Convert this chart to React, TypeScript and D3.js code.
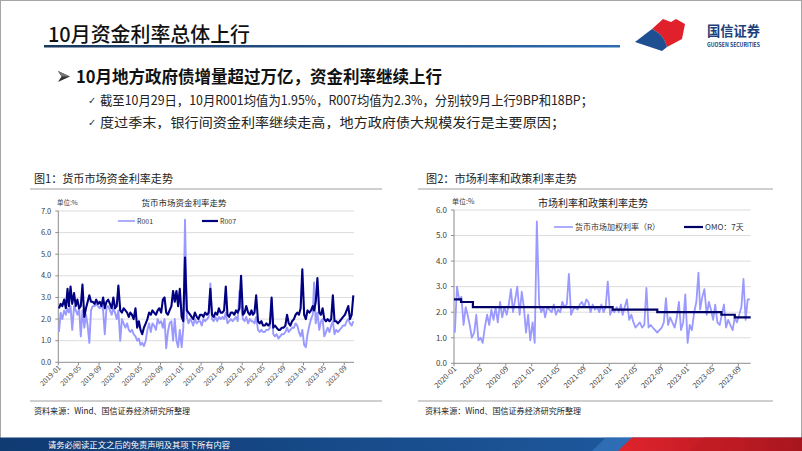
import * as d3 from 'd3';

// ---------- data (3 samples per month: 5th, 15th, 25th) ----------
const sampleDays = [5, 15, 25];

const r001_2019 = [1.4, 2.3, 2.0, 2.4, 2.2, 2.5, 2.3, 2.6, 1.5, 2.6, 2.4, 2.2, 2.5, 1.2, 2.4, 1.6, 2.2, 1.7, 0.9, 2.4, 2.6, 2.6, 2.7, 2.6, 2.5, 2.7, 2.4, 1.3, 2.5, 2.6, 2.4, 2.2, 2.5, 2.3, 2.0, 2.4];
const r001_2020 = [1.0, 2.0, 1.8, 1.6, 1.8, 1.5, 1.4, 1.5, 1.3, 1.2, 1.0, 1.1, 0.8, 0.9, 0.75, 1.0, 1.5, 1.8, 1.4, 1.8, 1.7, 1.5, 2.0, 1.8, 1.9, 1.6, 2.0, 0.65, 1.4, 1.8, 1.9, 1.0, 2.0, 1.0, 0.7, 1.5];
const r001_2021 = [0.7, 1.6, 6.6, 2.1, 1.8, 2.0, 1.9, 1.7, 2.0, 1.8, 1.9, 1.9, 1.7, 2.0, 1.9, 2.0, 2.1, 3.65, 2.0, 1.9, 2.1, 1.9, 2.1, 2.0, 2.1, 2.0, 2.3, 1.8, 1.9, 2.0, 1.9, 2.0, 2.1, 1.9, 3.3, 2.6];
const r001_2022 = [2.0, 1.9, 2.1, 1.8, 2.0, 1.9, 1.9, 1.8, 2.1, 1.5, 1.4, 1.5, 1.4, 1.4, 1.5, 1.5, 1.6, 2.9, 1.3, 1.2, 1.3, 1.1, 1.2, 1.3, 1.3, 1.4, 1.6, 1.4, 1.5, 1.6, 1.6, 1.8, 1.7, 1.4, 1.2, 1.5];
const r001_2023 = [0.8, 0.7, 1.3, 1.7, 2.0, 2.2, 3.7, 1.8, 2.3, 1.5, 1.9, 2.0, 1.2, 1.4, 1.6, 1.4, 1.7, 1.9, 1.3, 1.5, 1.4, 1.5, 1.6, 1.7, 1.7, 1.9, 2.0, 1.8, 1.7, 1.9];

const r007_2019 = [2.5, 2.7, 2.6, 2.9, 2.5, 3.4, 2.6, 3.5, 2.7, 3.2, 2.6, 2.9, 2.5, 2.6, 3.6, 2.1, 2.5, 2.8, 3.1, 2.8, 2.8, 2.7, 2.9, 2.7, 2.8, 2.6, 3.0, 2.5, 2.8, 2.9, 2.7, 2.5, 3.0, 2.5, 2.6, 3.55];
const r007_2020 = [2.4, 2.3, 2.5, 2.4, 2.3, 2.1, 2.3, 2.2, 2.0, 2.5, 1.6, 1.9, 1.5, 1.3, 1.6, 1.8, 2.0, 2.3, 2.2, 2.4, 2.3, 2.2, 2.4, 2.5, 2.3, 2.9, 3.0, 2.3, 2.2, 2.4, 2.6, 3.3, 2.8, 3.3, 2.6, 3.4];
const r007_2021 = [2.1, 1.9, 4.85, 2.4, 2.3, 2.2, 2.1, 2.0, 2.3, 2.1, 2.0, 2.2, 2.2, 2.1, 2.3, 2.2, 2.3, 3.4, 2.2, 2.1, 2.3, 2.2, 2.5, 2.3, 2.3, 2.4, 3.5, 2.2, 2.1, 2.3, 2.3, 2.2, 2.4, 2.3, 2.5, 4.0];
const r007_2022 = [2.2, 2.3, 2.6, 2.3, 2.2, 2.4, 2.2, 2.3, 3.1, 1.9, 1.8, 1.9, 1.7, 1.7, 1.8, 1.7, 1.8, 3.0, 1.6, 1.7, 1.6, 1.5, 1.5, 1.6, 1.6, 1.7, 2.2, 1.8, 1.7, 1.9, 2.0, 2.2, 2.3, 2.2, 2.5, 4.3];
const r007_2023 = [2.2, 2.0, 2.4, 2.3, 2.4, 2.6, 2.4, 2.8, 3.9, 2.3, 2.2, 2.5, 2.0, 1.9, 2.0, 1.9, 2.0, 3.1, 1.9, 1.9, 1.8, 1.9, 2.0, 2.1, 2.2, 2.4, 2.6, 2.0, 2.2, 3.1];

const rate_2020 = [1.2, 3.0, 2.5, 2.6, 1.5, 2.2, 1.9, 1.5, 1.0, 1.2, 1.9, 0.9, 1.0, 0.8, 1.4, 1.9, 1.5, 2.1, 1.7, 2.2, 1.6, 2.4, 1.8, 2.2, 1.9, 2.3, 2.9, 2.0, 2.5, 3.0, 1.9, 2.8, 2.2, 1.2, 1.9, 0.9];
const rate_2021 = [1.6, 0.8, 5.55, 2.3, 2.0, 2.2, 1.8, 2.2, 2.1, 2.0, 2.3, 1.9, 2.1, 2.0, 2.4, 2.2, 2.3, 3.5, 1.9, 2.1, 2.2, 2.1, 2.3, 2.4, 2.2, 2.5, 2.4, 2.0, 2.3, 2.1, 2.2, 2.0, 2.3, 2.0, 2.2, 3.2];
const rate_2022 = [1.9, 2.1, 2.0, 2.2, 2.0, 2.3, 1.9, 2.2, 2.5, 1.7, 1.9, 1.6, 1.4, 1.5, 1.6, 1.4, 1.5, 2.95, 1.4, 1.5, 1.4, 1.3, 1.2, 1.3, 1.4, 1.6, 2.55, 1.5, 1.8, 1.6, 1.4, 1.8, 2.4, 1.3, 1.6, 2.7];
const rate_2023 = [0.8, 1.5, 1.3, 2.0, 2.4, 3.55, 2.1, 2.6, 2.9, 1.9, 2.4, 2.1, 1.7, 2.3, 1.6, 1.5, 1.9, 2.3, 1.4, 1.7, 1.5, 1.3, 1.8, 1.6, 1.9, 2.2, 3.3, 1.7, 2.5, 2.5];

const omoDates = ['2020-01-01', '2020-02-03', '2020-03-30', '2022-01-17', '2022-08-15', '2023-06-13', '2023-08-15', '2023-10-29'];
const omoValues = [2.5, 2.4, 2.2, 2.1, 2.0, 1.9, 1.8, 1.8];

const yTicks1 = [0, 1, 2, 3, 4, 5, 6, 7];
const yTicks2 = [0, 1, 2, 3, 4, 5, 6];

// ---------- helpers ----------
const FONT = '"Noto Sans CJK SC", "Noto Sans", sans-serif';
const LIGHT = '#9999ff';
const NAVY = '#000080';

type Pt = { date: Date; value: number };

function toSeries(startYear: number, vals: number[]): Pt[] {
    return vals.map((v, i) => {
        const m = Math.floor(i / 3);
        return { date: new Date(startYear + Math.floor(m / 12), m % 12, sampleDays[i % 3]), value: v };
    });
}

const parse = d3.timeParse('%Y-%m-%d');
const fmt = d3.timeFormat('%Y-%m');

const r001 = toSeries(2019, [...r001_2019, ...r001_2020, ...r001_2021, ...r001_2022, ...r001_2023]);
const r007 = toSeries(2019, [...r007_2019, ...r007_2020, ...r007_2021, ...r007_2022, ...r007_2023]);
const rate = toSeries(2020, [...rate_2020, ...rate_2021, ...rate_2022, ...rate_2023]);
const omo: Pt[] = omoDates.map((d, i) => ({ date: parse(d)!, value: omoValues[i] }));

function Frame({ x, y, ticks, tickFont, dateFont }: {
    x: d3.ScaleTime<number, number>; y: d3.ScaleLinear<number, number>;
    ticks: number[]; tickFont: number; dateFont: number;
}) {
    const [x0, x1] = x.range();
    const [yb, yt] = y.range();
    const xTicks = x.ticks(d3.timeMonth.every(4)!);
    return (
        <g fontFamily={FONT}>
            {ticks.filter(t => t > 0).map(t => (
                <line key={'g' + t} x1={x0} x2={x1} y1={y(t)} y2={y(t)} stroke="#dcdcdc" strokeWidth={1} />
            ))}
            {ticks.map(t => (
                <g key={'t' + t}>
                    <line x1={x0 - 3} x2={x0} y1={y(t)} y2={y(t)} stroke="#8c8c8c" />
                    <text x={x0 - 7} y={y(t)} dy="0.35em" textAnchor="end" fontSize={tickFont} fill="#404040">{t.toFixed(1)}</text>
                </g>
            ))}
            <line x1={x0} x2={x0} y1={yt} y2={yb} stroke="#8c8c8c" />
            <line x1={x0} x2={x1} y1={yb} y2={yb} stroke="#8c8c8c" />
            {xTicks.map(d => (
                <g key={+d}>
                    <line x1={x(d)} x2={x(d)} y1={yb} y2={yb + 3} stroke="#8c8c8c" />
                    <text transform={`translate(${x(d) + 3},${yb + 6}) rotate(-45)`} textAnchor="end" fontSize={dateFont} fill="#404040">{fmt(d)}</text>
                </g>
            ))}
        </g>
    );
}

function Chart1() {
    const x = d3.scaleTime().domain([new Date(2019, 0, 1), new Date(2023, 9, 29)]).range([58.3, 354]);
    const y = d3.scaleLinear().domain([0, 7]).range([362.3, 211]);
    const line = d3.line<Pt>().x(d => x(d.date)).y(d => y(d.value));
    return (
        <g>
            <Frame x={x} y={y} ticks={yTicks1} tickFont={7.5} dateFont={7} />
            <path d={line(r001)!} fill="none" stroke={LIGHT} strokeWidth={1.9} strokeLinejoin="round" />
            <path d={line(r007)!} fill="none" stroke={NAVY} strokeWidth={2.1} strokeLinejoin="round" />
            <g fontFamily={FONT}>
                <text x={57} y={205} fontSize={6.5} fill="#404040">单位:%</text>
                <text x={184} y={206} fontSize={8.5} textAnchor="middle" fill="#222">货币市场资金利率走势</text>
                <line x1={118} x2={135} y1={221} y2={221} stroke={LIGHT} strokeWidth={1.6} />
                <text x={137} y={223.5} fontSize={7} fill="#333">R001</text>
                <line x1={202} x2={218} y1={221} y2={221} stroke={NAVY} strokeWidth={2.2} />
                <text x={220} y={223.5} fontSize={7} fill="#333">R007</text>
            </g>
        </g>
    );
}

function Chart2() {
    const x = d3.scaleTime().domain([new Date(2020, 0, 1), new Date(2023, 9, 29)]).range([454, 750.7]);
    const y = d3.scaleLinear().domain([0, 6]).range([363.3, 210]);
    const line = d3.line<Pt>().x(d => x(d.date)).y(d => y(d.value));
    const step = d3.line<Pt>().x(d => x(d.date)).y(d => y(d.value)).curve(d3.curveStepAfter);
    return (
        <g>
            <Frame x={x} y={y} ticks={yTicks2} tickFont={8} dateFont={7.5} />
            <path d={line(rate)!} fill="none" stroke={LIGHT} strokeWidth={1.8} strokeLinejoin="round" />
            <path d={step(omo)!} fill="none" stroke="#000066" strokeWidth={2.2} />
            <g fontFamily={FONT}>
                <text x={452} y={204} fontSize={7} fill="#404040">单位:%</text>
                <text x={593} y={207} fontSize={10} textAnchor="middle" fill="#222">市场利率和政策利率走势</text>
                <line x1={554} x2={573} y1={227} y2={227} stroke={LIGHT} strokeWidth={1.6} />
                <text x={575} y={230} fontSize={8} fill="#333">货币市场加权利率（R）</text>
                <line x1={684} x2={703} y1={227} y2={227} stroke="#000066" strokeWidth={2.2} />
                <text x={705} y={230} fontSize={8} fill="#333">OMO：7天</text>
            </g>
        </g>
    );
}

export default function App() {
    return (
        <svg width={802} height={451} viewBox="0 0 802 451"
            style={{ position: 'absolute', left: 0, top: 0, display: 'block', background: '#fff' }}>
            <defs>
                <linearGradient id="titleLine" x1="0" x2="1" y1="0" y2="0">
                    <stop offset="0" stopColor="#17375e" />
                    <stop offset="1" stopColor="#2e6cb0" />
                </linearGradient>
                <linearGradient id="footBlue" x1="0" x2="1" y1="0" y2="0">
                    <stop offset="0" stopColor="#0f3a72" />
                    <stop offset="0.7" stopColor="#1c5598" />
                    <stop offset="1" stopColor="#2466ad" />
                </linearGradient>
                <linearGradient id="footRed" x1="0" x2="1" y1="0" y2="0">
                    <stop offset="0" stopColor="#e0242c" />
                    <stop offset="1" stopColor="#a8151e" />
                </linearGradient>
            </defs>
            <rect x={0.5} y={0.5} width={801} height={450} fill="#fff" stroke="#a6a6a6" />

            {/* header */}
            <g fontFamily={FONT}>
                <text x={48} y={42} fontSize={20} fontWeight={500} fill="#111" textLength={202} lengthAdjust="spacingAndGlyphs">10月资金利率总体上行</text>
                <rect x={44} y={45} width={576} height={2.5} fill="url(#titleLine)" />
                <path d="M652,29 L663,19 L671,22 L676,19 L685,24 L682,39 L667,47 C665,40 662,34 652,29 Z" fill="#e0202a" />
                <path d="M635,42 L652,29 C662,34 665,40 667,47 L662,51 Z" fill="#1d4f91" />
                <text x={707} y={36} fontSize={13.5} fontWeight={700} fill="#1d3f7a" textLength={53} lengthAdjust="spacingAndGlyphs">国信证券</text>
                <text x={707} y={46.5} fontSize={5.5} fontWeight={700} fill="#1d3f7a" textLength={53} lengthAdjust="spacingAndGlyphs">GUOSEN SECURITIES</text>
            </g>

            {/* bullets */}
            <g fontFamily={FONT}>
                {/* arrowhead bullet */}
                <path d="M58,71 L70,76.5 L58,82 L61.5,76.5 Z" fill="#333" />
                <path d="M58,71 L70,76.5 L61.5,76.5 Z" fill="#777" />
                <text x={76} y={83} fontSize={17} fontWeight={700} fill="#111" textLength={366} lengthAdjust="spacingAndGlyphs">10月地方政府债增量超过万亿，资金利率继续上行</text>
                <text x={88} y={104} fontSize={10} fill="#333" fontFamily="DejaVu Sans">✓</text>
                <text x={100} y={105} fontSize={13} fill="#222" textLength={493} lengthAdjust="spacingAndGlyphs">截至10月29日，10月R001均值为1.95%，R007均值为2.3%，分别较9月上行9BP和18BP；</text>
                <text x={88} y={126} fontSize={10} fill="#333" fontFamily="DejaVu Sans">✓</text>
                <text x={100} y={127} fontSize={13} fill="#222" textLength={465} lengthAdjust="spacingAndGlyphs">度过季末，银行间资金利率继续走高，地方政府债大规模发行是主要原因；</text>
            </g>

            {/* chart headers and sources */}
            <g fontFamily={FONT}>
                <text x={34} y={183} fontSize={11.5} fill="#222" textLength={139} lengthAdjust="spacingAndGlyphs">图1：货币市场资金利率走势</text>
                <line x1={30} x2={382} y1={189} y2={189} stroke="#bfbfbf" strokeWidth={1.5} />
                <text x={426} y={183} fontSize={11.5} fill="#222" textLength={151} lengthAdjust="spacingAndGlyphs">图2：市场利率和政策利率走势</text>
                <line x1={418} x2={773} y1={189} y2={189} stroke="#bfbfbf" strokeWidth={1.5} />
                <line x1={30} x2={382} y1={401} y2={401} stroke="#bfbfbf" strokeWidth={1.5} />
                <line x1={418} x2={773} y1={401} y2={401} stroke="#bfbfbf" strokeWidth={1.5} />
                <text x={34} y={414} fontSize={8.5} fill="#222" textLength={156} lengthAdjust="spacingAndGlyphs">资料来源：Wind、国信证券经济研究所整理</text>
                <text x={425} y={414} fontSize={8.5} fill="#222" textLength={156} lengthAdjust="spacingAndGlyphs">资料来源：Wind、国信证券经济研究所整理</text>
            </g>

            <Chart1 />
            <Chart2 />

            {/* footer */}
            <rect x={0} y={437.5} width={802} height={13.5} fill="url(#footBlue)" />
            <polygon points="592,451 606,437.5 640,437.5 626,451" fill="#3a7cc4" opacity={0.6} />
            <polygon points="618,451 632,437.5 802,437.5 802,451" fill="url(#footRed)" />
            <polygon points="690,451 704,437.5 740,437.5 726,451" fill="#c01a24" opacity={0.6} />
            <text x={48} y={447.5} fontSize={8.5} fill="#fff" fontFamily={FONT} textLength={182} lengthAdjust="spacingAndGlyphs">请务必阅读正文之后的免责声明及其项下所有内容</text>
        </svg>
    );
}
